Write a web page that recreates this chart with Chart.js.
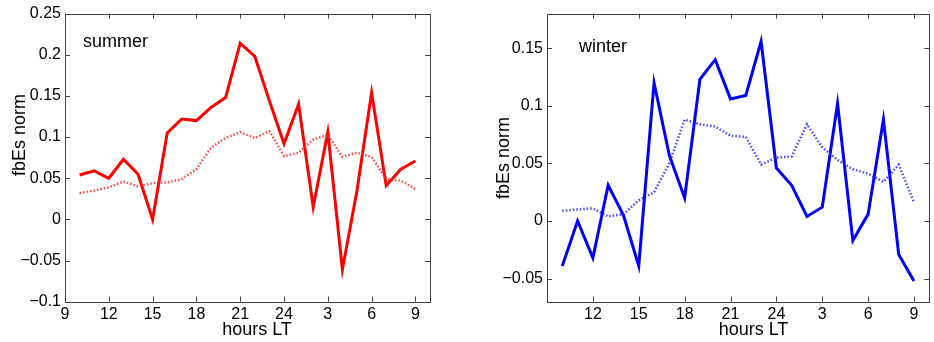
<!DOCTYPE html>
<html>
<head>
<meta charset="utf-8">
<script src="https://cdn.jsdelivr.net/npm/chart.js@4/dist/chart.umd.min.js"></script>
<style>
  body { margin: 0; background: #fff; width: 934px; height: 342px; position: relative; overflow: hidden; }
  .box { position: absolute; top: 0; height: 342px; }
</style>
</head>
<body>
<div class="box" style="left:0;width:440px"><canvas id="summerChart"></canvas></div>
<div class="box" style="left:480px;width:454px"><canvas id="winterChart"></canvas></div>
<script>
// hours 10..33 (25..33 = 1..9 LT next day)
var hours = [10,11,12,13,14,15,16,17,18,19,20,21,22,23,24,25,26,27,28,29,30,31,32,33];

var summerSolid = [0.054,0.059,0.050,0.073,0.055,0.000,0.105,0.122,0.120,0.136,0.148,0.214,
                   0.198,0.144,0.092,0.140,0.015,0.106,-0.061,0.035,0.154,0.041,0.061,0.071];
var summerDotted = [0.032,0.035,0.039,0.046,0.040,0.044,0.045,0.049,0.061,0.087,0.099,0.106,
                    0.099,0.107,0.077,0.081,0.097,0.103,0.076,0.081,0.076,0.049,0.047,0.037];

var winterSolid = [-0.039,0.000,-0.032,0.031,0.005,-0.039,0.120,0.057,0.020,0.123,0.140,0.106,
                   0.109,0.156,0.046,0.031,0.004,0.012,0.102,-0.017,0.006,0.088,-0.029,-0.052];
var winterDotted = [0.009,0.010,0.011,0.004,0.006,0.018,0.025,0.050,0.088,0.084,0.082,0.074,
                    0.073,0.049,0.055,0.056,0.084,0.064,0.053,0.045,0.041,0.034,0.049,0.016];

var summerXTicks = [9,12,15,18,21,24,27,30,33];
var winterXTicks = [12,15,18,21,24,27,30,33];
var summerYTicks = [-0.1,-0.05,0,0.05,0.1,0.15,0.2,0.25];
var summerYLabels = ['\u22120.1','\u22120.05','0','0.05','0.1','0.15','0.2','0.25'];
var winterYTicks = [-0.05,0,0.05,0.1,0.15];
var winterYLabels = ['\u22120.05','0','0.05','0.1','0.15'];

function pts(vals) {
  return hours.map(function (h, i) { return { x: h, y: vals[i] }; });
}
function hourLabel(v) { return String(v > 24 ? v - 24 : v); }

// box with inward ticks, MATLAB style
var boxPlugin = {
  id: 'boxPlugin',
  afterDraw: function (chart) {
    var ctx = chart.ctx, a = chart.chartArea;
    var xs = chart.scales.x, ys = chart.scales.y;
    var tl = 5;
    ctx.save();
    ctx.strokeStyle = '#404040';
    ctx.lineWidth = 1;
    ctx.strokeRect(Math.round(a.left) + 0.5, Math.round(a.top) + 0.5,
                   Math.round(a.right - a.left), Math.round(a.bottom - a.top));
    ctx.beginPath();
    xs.ticks.forEach(function (t) {
      var px = Math.round(xs.getPixelForValue(t.value)) + 0.5;
      ctx.moveTo(px, a.bottom); ctx.lineTo(px, a.bottom - tl);
      ctx.moveTo(px, a.top); ctx.lineTo(px, a.top + tl);
    });
    ys.ticks.forEach(function (t) {
      var py = Math.round(ys.getPixelForValue(t.value)) + 0.5;
      ctx.moveTo(a.left, py); ctx.lineTo(a.left + tl, py);
      ctx.moveTo(a.right, py); ctx.lineTo(a.right - tl, py);
    });
    ctx.stroke();

    var o = chart.options.plugins.boxPlugin;
    ctx.fillStyle = '#000';
    ctx.font = '18px "Liberation Sans", Arial, sans-serif';
    ctx.textBaseline = 'middle';
    ctx.textAlign = 'left';
    ctx.fillText(o.season, o.seasonX, o.seasonY);
    ctx.textAlign = 'center';
    ctx.fillText('hours LT', o.xlabX, o.xlabY);
    ctx.translate(o.ylabX, o.ylabY);
    ctx.rotate(-Math.PI / 2);
    ctx.fillText('fbEs norm', 0, 0);
    ctx.restore();
  }
};

function makeChart(id, color, dotColor, solid, dotted, xTicks, yMin, yMax, yTicks, yLabels, yWidth, padRight, padTop, labels) {
  return new Chart(document.getElementById(id), {
    type: 'line',
    data: {
      datasets: [
        { data: pts(dotted), borderColor: dotColor, borderWidth: 2.5, borderDash: [1.5, 2], pointRadius: 0, tension: 0 },
        { data: pts(solid), borderColor: color, borderWidth: 3, pointRadius: 0, tension: 0 }
      ]
    },
    options: {
      responsive: true,
      maintainAspectRatio: false,
      animation: false,
      layout: { padding: { left: 0, right: padRight, top: padTop, bottom: 0 } },
      plugins: { legend: { display: false }, tooltip: { enabled: false }, boxPlugin: labels },
      scales: {
        x: {
          type: 'linear', min: 9, max: 34,
          grid: { display: false, drawTicks: false }, border: { display: false },
          afterBuildTicks: function (s) { s.ticks = xTicks.map(function (v) { return { value: v }; }); },
          afterFit: function (s) { s.height = 40.3; },
          ticks: { padding: 3, color: '#000', maxRotation: 0, autoSkip: false,
                   font: { size: 16, family: '"Liberation Sans", Arial, sans-serif' },
                   callback: function (v) { return hourLabel(v); } }
        },
        y: {
          min: yMin, max: yMax,
          grid: { display: false, drawTicks: false }, border: { display: false },
          afterBuildTicks: function (s) { s.ticks = yTicks.map(function (v) { return { value: v }; }); },
          afterFit: function (s) { s.width = yWidth; },
          ticks: { padding: 4, color: '#000', autoSkip: false,
                   font: { size: 16, family: '"Liberation Sans", Arial, sans-serif' },
                   callback: function (v) { var i = yTicks.indexOf(v); return i >= 0 ? yLabels[i] : ''; } }
        }
      }
    },
    plugins: [boxPlugin]
  });
}

makeChart('summerChart', '#ff0000', 'rgba(255,40,40,0.85)', summerSolid, summerDotted, summerXTicks,
  -0.1, 0.25, summerYTicks, summerYLabels, 65, 10, 12.7,
  { season: 'summer', seasonX: 83, seasonY: 42, xlabX: 257, xlabY: 330, ylabX: 20, ylabY: 135 });

makeChart('winterChart', '#0000ff', 'rgba(40,40,255,0.85)', winterSolid, winterDotted, winterXTicks,
  -0.07, 0.18, winterYTicks, winterYLabels, 67, 4.7, 13.3,
  { season: 'winter', seasonX: 99, seasonY: 47, xlabX: 273.5, xlabY: 330, ylabX: 24, ylabY: 158 });
</script>
</body>
</html>
